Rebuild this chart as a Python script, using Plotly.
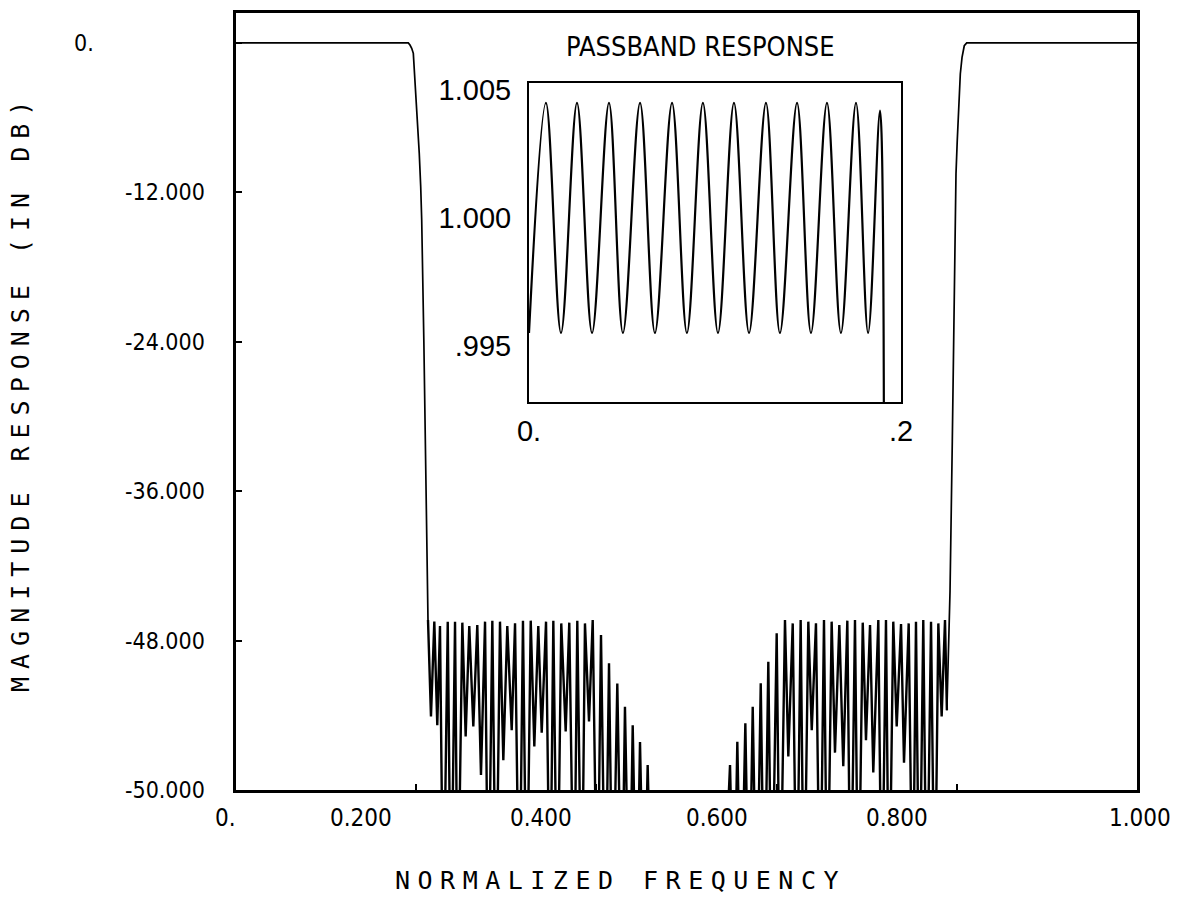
import plotly.graph_objects as go

# ---------------- passband detail (linear magnitude) ----------------
pb_freq = [0.0, 0.0091, 0.0172, 0.0258, 0.0339, 0.0430, 0.0505, 0.0597, 0.0677,
           0.0769, 0.0849, 0.0935, 0.1016, 0.1102, 0.1183, 0.1274, 0.1349, 0.1441,
           0.1516, 0.1602, 0.1677, 0.1758, 0.1823, 0.1887, 0.1909]
pb_mag = [0.9955, 1.0045, 0.9955, 1.0045, 0.9955, 1.0045, 0.9955, 1.0045, 0.9955,
          1.0045, 0.9955, 1.0045, 0.9955, 1.0045, 0.9955, 1.0045, 0.9955, 1.0045,
          0.9955, 1.0045, 0.9955, 1.0045, 0.9955, 1.0042, 0.9850]

# ---------------- main response (dB) ----------------
# lower passband edge and transition
lo_edge_freq = [0.0, 0.1912, 0.1931, 0.1950, 0.1968, 0.1990, 0.2017, 0.2034,
                0.2050, 0.2061, 0.2085, 0.2103, 0.2116]
lo_edge_db = [0.0, 0.0, -0.17, -0.44, -0.84, -3.52, -6.19, -8.87,
              -11.55, -14.2, -24.0, -33.0, -40.7]

# lower stopband: ripple maxima and the minima that follow each of them
lo_peak_freq = [0.2131, 0.2201, 0.2264, 0.2350, 0.2431, 0.2512, 0.2589, 0.2678,
                0.2764, 0.2845, 0.2930, 0.3011, 0.3097, 0.3185, 0.3271, 0.3355,
                0.3441, 0.3522, 0.3610, 0.3699, 0.3788, 0.3873, 0.3959, 0.4051,
                0.4140, 0.4232, 0.4317, 0.4403, 0.4484, 0.4569]
lo_peak_db = [-46.35, -46.48, -46.83, -46.48, -46.48, -46.56, -46.83, -46.75,
              -46.48, -46.40, -46.48, -46.83, -46.62, -46.40, -46.40, -46.83,
              -46.48, -46.40, -46.62, -46.56, -46.40, -46.62, -46.35, -47.55,
              -49.83, -51.44, -53.31, -54.80, -56.14, -57.99]
lo_dip_freq = [0.2164, 0.2234, 0.2301, 0.2386, 0.2461, 0.2549, 0.2634, 0.2719,
               0.2800, 0.2886, 0.2967, 0.3060, 0.3144, 0.3226, 0.3311, 0.3393,
               0.3485, 0.3566, 0.3659, 0.3751, 0.3837, 0.3918, 0.4010, 0.4099,
               0.4181, 0.4281, 0.4365, 0.4447, 0.4528, 0.4614]
lo_dip_db = [-54.1, -54.8, -72.0, -72.0, -72.0, -55.7, -54.9, -58.8,
             -72.0, -72.0, -57.6, -55.2, -72.0, -72.0, -56.5, -55.4,
             -72.0, -72.0, -55.3, -72.0, -72.0, -54.5, -72.0, -72.0,
             -72.0, -72.0, -72.0, -72.0, -72.0, -72.0]

# deep notch between the two stopband halves
mid_freq = [0.5000, 0.5400]
mid_db = [-80.0, -72.0]

# upper stopband: ripple maxima and the minima that follow each of them
hi_peak_freq = [0.5483, 0.5564, 0.5653, 0.5735, 0.5824, 0.5908, 0.6001, 0.6093,
                0.6179, 0.6267, 0.6352, 0.6437, 0.6526, 0.6611, 0.6696, 0.6785,
                0.6870, 0.6956, 0.7037, 0.7129, 0.7214, 0.7295, 0.7381, 0.7466,
                0.7547, 0.7628, 0.7714, 0.7795, 0.7869]
hi_peak_db = [-57.99, -56.12, -54.65, -53.31, -51.43, -49.70, -47.42, -46.35,
              -46.62, -46.35, -46.48, -46.62, -46.35, -46.48, -46.75, -46.40,
              -46.35, -46.56, -46.75, -46.35, -46.35, -46.48, -46.67, -46.62,
              -46.48, -46.35, -46.48, -46.62, -46.35]
hi_dip_freq = [0.5527, 0.5605, 0.5694, 0.5779, 0.5864, 0.5946, 0.6038, 0.6130,
               0.6223, 0.6304, 0.6390, 0.6482, 0.6563, 0.6648, 0.6740, 0.6822,
               0.6907, 0.6992, 0.7073, 0.7167, 0.7248, 0.7333, 0.7414, 0.7510,
               0.7584, 0.7666, 0.7755, 0.7832, 0.7890]
hi_dip_db = [-72.0, -72.0, -72.0, -72.0, -72.0, -72.0, -72.0, -57.3,
             -72.0, -72.0, -55.2, -72.0, -72.0, -57.0, -58.1, -72.0,
             -72.0, -56.0, -58.6, -72.0, -72.0, -54.9, -57.8, -72.0,
             -72.0, -72.0, -72.0, -54.1, -53.6]

# upper transition and passband
hi_edge_freq = [0.7925, 0.7950, 0.7968, 0.7980, 0.7991, 0.8005, 0.8024, 0.8039,
                0.8058, 0.8083, 0.8110, 1.0]
hi_edge_db = [-44.0, -32.0, -22.0, -14.5, -10.52, -7.85, -5.17, -2.5,
              -1.16, -0.23, 0.0, 0.0]

# axis labels
y_tick_vals = [0, -12, -24, -36, -48, -60]
y_tick_text = ["0.", "-12.000", "-24.000", "-36.000", "-48.000", "-50.000"]
x_tick_vals = [0, 0.2, 0.4, 0.6, 0.8, 1.0]
x_tick_text = ["0.", "0.200", "0.400", "0.600", "0.800", "1.000"]
inset_y_vals = [0.995, 1.000, 1.005]
inset_y_text = [".995", "1.000", "1.005"]
inset_x_vals = [0.0, 0.2]
inset_x_text = ["0.", ".2"]


def interleave(a, b):
    out = []
    for p, q in zip(a, b):
        out.extend([p, q])
    return out


stop_f = (interleave(lo_peak_freq, lo_dip_freq) + mid_freq
          + interleave(hi_peak_freq, hi_dip_freq))
stop_db = (interleave(lo_peak_db, lo_dip_db) + mid_db
           + interleave(hi_peak_db, hi_dip_db))

# ---------------- page geometry (pixels) ----------------
W, H = 1181, 917
L, R, T, B = 236, 44, 13, 127
pw, ph = W - L - R, H - T - B

# where the plotter put its tick labels (pixel centres / right edges)
x_label_px = [225, 361, 541, 717, 897, 1140]
x_label_row = 818
y_label_right = 207
y_zero_label_px = 84


def px_x(p):
    return (p - L) / pw


def px_y(p):
    return (H - B - p) / ph


plot_font = "DejaVu Sans Condensed, Liberation Sans, sans-serif"
inset_font = "Liberation Sans, Arial, sans-serif"
inset_title_font = "Liberation Sans Narrow, DejaVu Sans Condensed, sans-serif"
title_font = "DejaVu Sans Mono, Liberation Mono, monospace"

fig = go.Figure()
# passbands and transition edges (thin pen)
fig.add_trace(go.Scatter(x=lo_edge_freq + [lo_peak_freq[0]], y=lo_edge_db + [lo_peak_db[0]],
                         mode="lines", line=dict(color="black", width=1.7),
                         hoverinfo="skip", showlegend=False))
fig.add_trace(go.Scatter(x=[hi_dip_freq[-1]] + hi_edge_freq, y=[hi_dip_db[-1]] + hi_edge_db,
                         mode="lines", line=dict(color="black", width=1.7),
                         hoverinfo="skip", showlegend=False))
# dense stopband ripples
fig.add_trace(go.Scatter(x=stop_f, y=stop_db, mode="lines",
                         line=dict(color="black", width=2.4),
                         hoverinfo="skip", showlegend=False))
# passband detail
fig.add_trace(go.Scatter(x=pb_freq, y=pb_mag, mode="lines",
                         line=dict(color="black", width=2.2, shape="spline", smoothing=1.0),
                         xaxis="x2", yaxis="y2", hoverinfo="skip", showlegend=False))

fig.update_layout(
    width=W, height=H,
    margin=dict(l=L, r=R, t=T, b=B, autoexpand=False),
    paper_bgcolor="white", plot_bgcolor="white",
    showlegend=False,
    xaxis=dict(range=[0, 1], domain=[0, 1], showgrid=False, zeroline=False,
               showline=True, mirror=True, linecolor="black", linewidth=2.5,
               ticks="inside", ticklen=6, tickwidth=1.5, tickcolor="black",
               tickvals=x_tick_vals, showticklabels=False, automargin=False),
    yaxis=dict(range=[-60, 2.4], domain=[0, 1], showgrid=False, zeroline=False,
               showline=True, mirror=True, linecolor="black", linewidth=2.5,
               ticks="inside", ticklen=6, tickwidth=1.5, tickcolor="black",
               tickvals=y_tick_vals, showticklabels=False, automargin=False),
    xaxis2=dict(range=[0, 0.2], domain=[px_x(529), px_x(901)], anchor="y2",
                showgrid=False, zeroline=False, showline=True, mirror=True,
                linecolor="black", linewidth=2, ticks="",
                tickvals=inset_x_vals, ticktext=inset_x_text,
                tickfont=dict(family=inset_font, size=29, color="black"),
                ticklabelstandoff=2, automargin=False),
    yaxis2=dict(range=[0.9928, 1.00528], domain=[px_y(402), px_y(83)], anchor="x2",
                showgrid=False, zeroline=False, showline=True, mirror=True,
                linecolor="black", linewidth=2, ticks="",
                tickvals=inset_y_vals, ticktext=inset_y_text,
                tickfont=dict(family=inset_font, size=29, color="black"),
                ticklabelstandoff=10, automargin=False),
)

# main-axis tick labels
for txt, px in zip(x_tick_text, x_label_px):
    fig.add_annotation(text=txt, xref="paper", yref="paper",
                       x=px_x(px), y=px_y(x_label_row), xanchor="center", yanchor="middle",
                       showarrow=False, font=dict(family=plot_font, size=24, color="black"))
for val, txt in zip(y_tick_vals, y_tick_text):
    if val == 0:
        fig.add_annotation(text=txt, xref="paper", yref="y", x=px_x(y_zero_label_px), y=val,
                           xanchor="center", yanchor="middle", showarrow=False,
                           font=dict(family=plot_font, size=23, color="black"))
    else:
        fig.add_annotation(text=txt, xref="paper", yref="y", x=px_x(y_label_right), y=val,
                           xanchor="right", yanchor="middle", showarrow=False,
                           font=dict(family=plot_font, size=23, color="black"))

fig.add_annotation(text="PASSBAND RESPONSE", xref="paper", yref="paper",
                   x=px_x(700), y=px_y(47), xanchor="center", yanchor="middle",
                   showarrow=False,
                   font=dict(family=inset_title_font, size=27, color="black"))
fig.add_annotation(text='<span style="letter-spacing:7.5px">NORMALIZED FREQUENCY</span>',
                   xref="paper", yref="paper", x=px_x(620), y=px_y(880),
                   xanchor="center", yanchor="middle", showarrow=False,
                   font=dict(family=title_font, size=25, color="black"))
fig.add_annotation(text='<span style="letter-spacing:8px">MAGNITUDE RESPONSE (IN DB)</span>',
                   xref="paper", yref="paper", x=px_x(20), y=px_y(393), textangle=-90,
                   xanchor="center", yanchor="middle", showarrow=False,
                   font=dict(family=title_font, size=25, color="black"))

fig.write_html("out.html")
